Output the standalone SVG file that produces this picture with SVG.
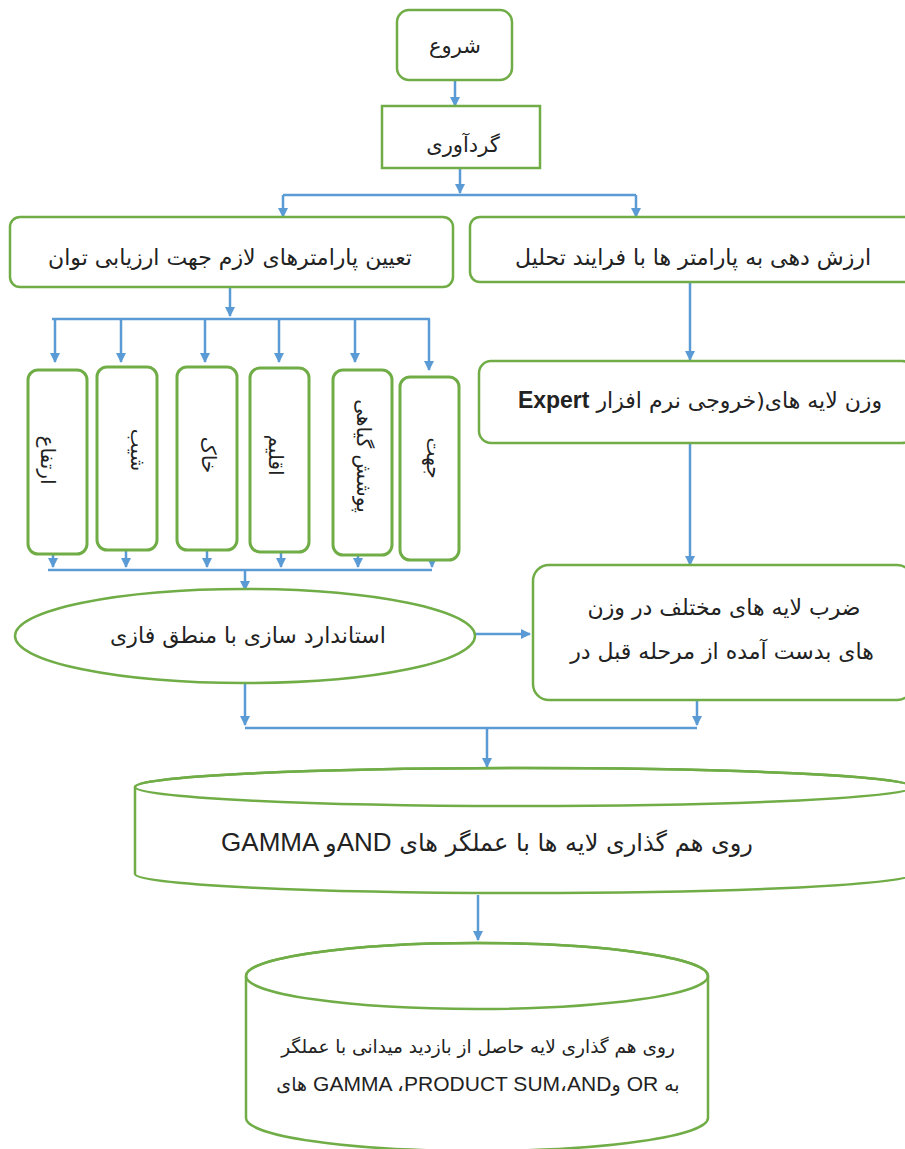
<svg xmlns="http://www.w3.org/2000/svg" width="905" height="1149" viewBox="0 0 905 1149">
<defs>
<marker id="arr" viewBox="0 0 10 10" refX="9" refY="5" markerWidth="4" markerHeight="4" orient="auto" markerUnits="strokeWidth">
<path d="M0,0 L10,5 L0,10 z" fill="#5B9BD5"/>
</marker>
<style>
.box{fill:#fff;stroke:#70AD47;stroke-width:2.5}
.vbox{fill:#fff;stroke:#70AD47;stroke-width:3}
.con{fill:none;stroke:#5B9BD5;stroke-width:2.5}
.ar{fill:none;stroke:#5B9BD5;stroke-width:2.5;marker-end:url(#arr)}
.t{font-family:"DejaVu Sans",sans-serif;font-size:21px;fill:#222;text-anchor:middle}
.lat{font-family:"Liberation Sans",Arial,sans-serif}
</style>
</defs>
<g id="connectors">
<path class="ar" d="M455,80 V106"/>
<path class="ar" d="M460,168 V193"/>
<path class="con" d="M283,195 H636"/>
<path class="ar" d="M283,195 V217"/>
<path class="ar" d="M636,195 V217"/>
<path class="ar" d="M230,287 V316"/>
<path class="con" d="M52,319 H430"/>
<path class="ar" d="M55,319 V362"/>
<path class="ar" d="M121,319 V362"/>
<path class="ar" d="M205,319 V362"/>
<path class="ar" d="M279,319 V362"/>
<path class="ar" d="M355,319 V362"/>
<path class="ar" d="M429,319 V370"/>
<path class="ar" d="M53,554 V567"/>
<path class="ar" d="M126,550 V567"/>
<path class="ar" d="M207,550 V567"/>
<path class="ar" d="M281,552 V567"/>
<path class="ar" d="M358,555 V567"/>
<path class="ar" d="M432,555 V567"/>
<path class="con" d="M48,570 H432"/>
<path class="ar" d="M245,570 V590"/>
<path class="ar" d="M475,634 V634 H530"/>
<path class="ar" d="M690,282 V360"/>
<path class="ar" d="M690,443 V565"/>
<path class="ar" d="M245,683 V725"/>
<path class="ar" d="M697,700 V725"/>
<path class="con" d="M245,728 H697"/>
<path class="ar" d="M487,728 V767"/>
<path class="ar" d="M478,895 V940"/>
</g>
<g id="start">
<rect class="box" x="397" y="10" width="115" height="70" rx="12"/>
<text class="t" x="455" y="53">شروع</text>
</g>
<g id="gather">
<rect class="box" x="382" y="106" width="158" height="62"/>
<text class="t" x="463" y="152">گردآوری</text>
</g>
<g id="params">
<rect class="box" x="10" y="217" width="443" height="70" rx="10"/>
<text class="t" x="230" y="265" style="font-size:22px">تعیین پارامترهای لازم جهت ارزیابی توان</text>
</g>
<g id="weighting">
<rect class="box" x="470" y="217" width="445" height="65" rx="10"/>
<text class="t" x="693" y="265" style="font-size:22px">ارزش دهی به پارامتر ها با فرایند تحلیل</text>
</g>
<g id="elev">
<rect class="vbox" x="28" y="370" width="59" height="184" rx="10"/>
<text class="t" transform="translate(48,460) rotate(90)" y="7" style="font-size:20px">ارتفاع</text>
</g>
<g id="slope">
<rect class="vbox" x="97" y="367" width="60" height="183" rx="10"/>
<text class="t" transform="translate(138,450) rotate(90)" y="7" style="font-size:20px">شیب</text>
</g>
<g id="soil">
<rect class="vbox" x="177" y="367" width="60" height="183" rx="10"/>
<text class="t" transform="translate(209,455) rotate(90)" y="7" style="font-size:20px">خاک</text>
</g>
<g id="climate">
<rect class="vbox" x="250" y="368" width="59" height="184" rx="10"/>
<text class="t" transform="translate(276,455) rotate(90)" y="7" style="font-size:20px">اقلیم</text>
</g>
<g id="veg">
<rect class="vbox" x="333" y="370" width="59" height="185" rx="10"/>
<text class="t" transform="translate(364,456) rotate(90)" y="7" style="font-size:20px">پوشش گیاهی</text>
</g>
<g id="aspect">
<rect class="vbox" x="400" y="377" width="59" height="183" rx="10"/>
<text class="t" transform="translate(434,458) rotate(90)" y="7" style="font-size:20px">جهت</text>
</g>
<g id="expert">
<rect class="box" x="479" y="361" width="435" height="82" rx="12"/>
<text class="t" x="700" y="408" style="font-size:22px"><tspan class="lat" style="font-weight:bold;font-size:23px">Expert</tspan>  وزن لایه های(خروجی نرم افزار</text>
</g>
<g id="fuzzy">
<ellipse class="box" cx="245" cy="636" rx="230" ry="47"/>
<text class="t" x="248" y="643" style="font-size:22px">استاندارد سازی با منطق فازی</text>
</g>
<g id="multiply">
<rect class="box" x="533" y="565" width="380" height="135" rx="16"/>
<text class="t" x="724" y="615" style="font-size:22px">ضرب لایه های مختلف در وزن</text>
<text class="t" x="722" y="659" style="font-size:22px">های بدست آمده از مرحله قبل در</text>
</g>
<g id="overlay1">
<path class="box" d="M135,787 V874 A389,19 0 0 0 913,874 V787 A389,19 0 0 0 135,787 Z"/>
<ellipse class="box" cx="524" cy="787" rx="389" ry="19" style="fill:none"/>
<text class="t" x="487" y="851" style="font-size:24px"><tspan class="lat" style="font-size:26px">GAMMA </tspan>و<tspan class="lat" style="font-size:26px">AND</tspan> روی هم گذاری لایه ها با عملگر های</text>
</g>
<g id="overlay2">
<path class="box" d="M246,976 V1118 A231,33 0 0 0 708,1118 V976 A231,33 0 0 0 246,976 Z"/>
<ellipse class="box" cx="477" cy="976" rx="231" ry="33" style="fill:none"/>
<text class="t" x="478" y="1053" style="font-size:18.5px">روی هم گذاری لایه حاصل از بازدید میدانی با عملگر</text>
<text class="t" x="478" y="1091" style="font-size:19px">های <tspan class="lat" style="font-size:21px">GAMMA ،PRODUCT SUM،AND</tspan>و <tspan class="lat" style="font-size:21px">OR</tspan> به</text>
</g>
</svg>
